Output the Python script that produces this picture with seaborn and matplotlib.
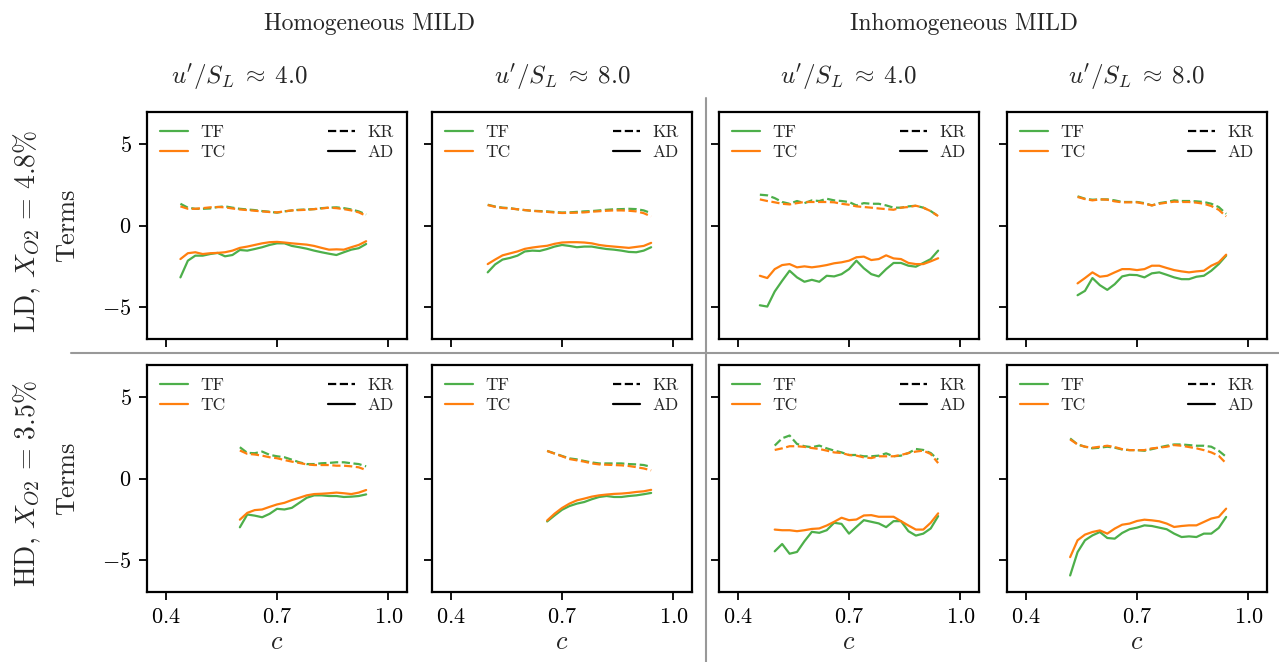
import matplotlib
matplotlib.use("Agg")
import matplotlib.pyplot as plt
from matplotlib.lines import Line2D
import seaborn as sns

# progress variable c and the four terms (TF/TC, KR/AD) for each panel
# LD, homogeneous, u'/S_L ~ 4
c_ld_h4 = [0.44, 0.46, 0.48, 0.50, 0.52, 0.54, 0.56, 0.58, 0.60, 0.62, 0.64, 0.66, 0.68,
           0.70, 0.72, 0.74, 0.76, 0.78, 0.80, 0.82, 0.84, 0.86, 0.88, 0.90, 0.92, 0.94]
tf_kr_ld_h4 = [1.34, 1.1, 1.03, 1.03, 1.05, 1.14, 1.18, 1.1, 1.03, 0.99, 0.95, 0.89, 0.85,
               0.79, 0.87, 0.93, 0.97, 0.99, 1.01, 1.07, 1.1, 1.12, 1.07, 0.99, 0.87, 0.68]
tc_kr_ld_h4 = [1.18, 1.03, 1.03, 1.07, 1.12, 1.14, 1.12, 1.05, 0.99, 0.95, 0.91, 0.87, 0.83,
               0.81, 0.87, 0.93, 0.95, 0.97, 1.01, 1.05, 1.1, 1.07, 1.01, 0.93, 0.81, 0.6]
tf_ad_ld_h4 = [-3.2, -2.17, -1.86, -1.86, -1.76, -1.69, -1.9, -1.82, -1.51, -1.55, -1.45, -1.34, -1.2,
               -1.1, -1.1, -1.26, -1.34, -1.43, -1.55, -1.65, -1.74, -1.82, -1.65, -1.49, -1.4, -1.14]
tc_ad_ld_h4 = [-2.07, -1.71, -1.65, -1.76, -1.71, -1.69, -1.65, -1.55, -1.38, -1.3, -1.2, -1.1, -1.03,
               -1.01, -1.05, -1.1, -1.14, -1.18, -1.26, -1.38, -1.49, -1.47, -1.49, -1.34, -1.2, -0.97]

# LD, homogeneous, u'/S_L ~ 8
c_ld_h8 = [0.50, 0.52, 0.54, 0.56, 0.58, 0.60, 0.62, 0.64, 0.66, 0.68, 0.70, 0.72,
           0.74, 0.76, 0.78, 0.80, 0.82, 0.84, 0.86, 0.88, 0.90, 0.92, 0.94]
tf_kr_ld_h8 = [1.28, 1.17, 1.1, 1.07, 1.0, 0.95, 0.91, 0.89, 0.87, 0.83, 0.8, 0.81,
               0.84, 0.87, 0.89, 0.93, 0.97, 1.0, 1.01, 1.03, 1.01, 0.93, 0.76]
tc_kr_ld_h8 = [1.26, 1.15, 1.08, 1.05, 1.0, 0.95, 0.9, 0.87, 0.84, 0.8, 0.77, 0.78,
               0.79, 0.81, 0.85, 0.88, 0.91, 0.93, 0.93, 0.91, 0.87, 0.76, 0.56]
tf_ad_ld_h8 = [-2.89, -2.4, -2.1, -2.0, -1.86, -1.6, -1.55, -1.57, -1.45, -1.3, -1.2, -1.26,
               -1.34, -1.3, -1.3, -1.38, -1.45, -1.49, -1.55, -1.63, -1.65, -1.55, -1.34]
tc_ad_ld_h8 = [-2.38, -2.1, -1.84, -1.72, -1.6, -1.44, -1.36, -1.3, -1.25, -1.13, -1.05, -1.03,
               -1.03, -1.05, -1.1, -1.2, -1.26, -1.3, -1.34, -1.38, -1.32, -1.26, -1.07]

# LD, inhomogeneous, u'/S_L ~ 4
c_ld_i4 = [0.46, 0.48, 0.50, 0.52, 0.54, 0.56, 0.58, 0.60, 0.62, 0.64, 0.66, 0.68, 0.70,
           0.72, 0.74, 0.76, 0.78, 0.80, 0.82, 0.84, 0.86, 0.88, 0.90, 0.92, 0.94]
tf_kr_ld_i4 = [1.9, 1.86, 1.69, 1.45, 1.34, 1.51, 1.38, 1.55, 1.51, 1.65, 1.55, 1.51, 1.45,
               1.24, 1.38, 1.34, 1.34, 1.24, 1.1, 1.1, 1.18, 1.22, 1.1, 0.89, 0.58]
tc_kr_ld_i4 = [1.61, 1.51, 1.43, 1.34, 1.3, 1.38, 1.45, 1.45, 1.45, 1.45, 1.43, 1.34, 1.28,
               1.18, 1.14, 1.1, 1.05, 1.01, 0.97, 1.1, 1.14, 1.22, 1.1, 0.89, 0.58]
tf_ad_ld_i4 = [-4.92, -5.0, -4.07, -3.41, -2.79, -3.2, -3.47, -3.35, -3.47, -3.1, -3.14, -3.0, -2.69,
               -2.17, -2.64, -3.0, -3.14, -2.69, -2.31, -2.31, -2.48, -2.54, -2.31, -2.07, -1.55]
tc_ad_ld_i4 = [-3.1, -3.24, -2.69, -2.44, -2.38, -2.58, -2.52, -2.58, -2.52, -2.44, -2.33, -2.27, -2.17,
               -1.96, -1.92, -2.13, -2.07, -1.84, -2.03, -2.07, -2.31, -2.38, -2.38, -2.21, -2.02]

# LD, inhomogeneous, u'/S_L ~ 8
c_ld_i8 = [0.54, 0.56, 0.58, 0.60, 0.62, 0.64, 0.66, 0.68, 0.70, 0.72, 0.74,
           0.76, 0.78, 0.80, 0.82, 0.84, 0.86, 0.88, 0.90, 0.92, 0.94]
tf_kr_ld_i8 = [1.8, 1.65, 1.59, 1.61, 1.61, 1.55, 1.45, 1.45, 1.45, 1.38, 1.24,
               1.38, 1.45, 1.55, 1.51, 1.51, 1.49, 1.45, 1.34, 1.14, 0.72]
tc_kr_ld_i8 = [1.76, 1.63, 1.55, 1.61, 1.59, 1.49, 1.43, 1.43, 1.43, 1.34, 1.24,
               1.34, 1.41, 1.47, 1.45, 1.45, 1.41, 1.34, 1.2, 0.97, 0.56]
tf_ad_ld_i8 = [-4.3, -4.03, -3.24, -3.68, -3.97, -3.62, -3.14, -3.04, -3.06, -3.2, -2.95,
               -2.89, -3.04, -3.2, -3.31, -3.31, -3.16, -3.1, -2.79, -2.38, -1.86]
tc_ad_ld_i8 = [-3.57, -3.24, -2.89, -3.16, -3.1, -2.89, -2.69, -2.69, -2.75, -2.69, -2.48,
               -2.48, -2.62, -2.75, -2.83, -2.89, -2.83, -2.79, -2.48, -2.27, -1.8]

# HD, homogeneous, u'/S_L ~ 4
c_hd_h4 = [0.60, 0.62, 0.64, 0.66, 0.68, 0.70, 0.72, 0.74, 0.76,
           0.78, 0.80, 0.82, 0.84, 0.86, 0.88, 0.90, 0.92, 0.94]
tf_kr_hd_h4 = [1.93, 1.58, 1.56, 1.66, 1.46, 1.37, 1.31, 1.16, 1.0,
               0.89, 0.89, 0.94, 0.96, 1.0, 1.0, 0.94, 0.89, 0.75]
tc_kr_hd_h4 = [1.73, 1.52, 1.48, 1.41, 1.31, 1.25, 1.14, 1.04, 0.96,
               0.87, 0.83, 0.83, 0.83, 0.79, 0.79, 0.75, 0.69, 0.52]
tf_ad_hd_h4 = [-3.01, -2.22, -2.29, -2.39, -2.18, -1.87, -1.91, -1.81, -1.5,
               -1.19, -1.04, -1.04, -1.08, -1.08, -1.14, -1.12, -1.08, -0.98]
tc_ad_hd_h4 = [-2.54, -2.12, -1.95, -1.91, -1.75, -1.6, -1.5, -1.33, -1.19,
               -1.04, -0.96, -0.94, -0.91, -0.87, -0.91, -0.96, -0.87, -0.71]

# HD, homogeneous, u'/S_L ~ 8
c_hd_h8 = [0.66, 0.68, 0.70, 0.72, 0.74, 0.76, 0.78, 0.80,
           0.82, 0.84, 0.86, 0.88, 0.90, 0.92, 0.94]
tf_kr_hd_h8 = [1.7, 1.55, 1.39, 1.24, 1.18, 1.08, 0.99, 0.93,
               0.93, 0.93, 0.93, 0.89, 0.87, 0.83, 0.72]
tc_kr_hd_h8 = [1.7, 1.53, 1.37, 1.2, 1.12, 1.04, 0.93, 0.87,
               0.85, 0.83, 0.81, 0.77, 0.7, 0.62, 0.5]
tf_ad_hd_h8 = [-2.65, -2.28, -1.93, -1.7, -1.55, -1.45, -1.28, -1.14,
               -1.08, -1.14, -1.14, -1.08, -1.04, -0.97, -0.89]
tc_ad_hd_h8 = [-2.59, -2.17, -1.82, -1.55, -1.35, -1.24, -1.12, -1.04,
               -0.99, -0.95, -0.93, -0.89, -0.83, -0.79, -0.7]

# HD, inhomogeneous, u'/S_L ~ 4
c_hd_i4 = [0.50, 0.52, 0.54, 0.56, 0.58, 0.60, 0.62, 0.64, 0.66, 0.68, 0.70, 0.72,
           0.74, 0.76, 0.78, 0.80, 0.82, 0.84, 0.86, 0.88, 0.90, 0.92, 0.94]
tf_kr_hd_i4 = [2.03, 2.48, 2.65, 2.13, 1.99, 1.93, 2.03, 1.86, 1.72, 1.61, 1.45, 1.45,
               1.37, 1.37, 1.41, 1.55, 1.37, 1.41, 1.57, 1.82, 1.76, 1.57, 1.16]
tc_kr_hd_i4 = [1.76, 1.86, 1.99, 1.99, 1.95, 1.88, 1.82, 1.72, 1.61, 1.57, 1.45, 1.41,
               1.3, 1.26, 1.37, 1.37, 1.37, 1.45, 1.57, 1.66, 1.72, 1.51, 0.95]
tf_ad_hd_i4 = [-4.49, -4.04, -4.64, -4.53, -3.87, -3.29, -3.35, -3.19, -2.73, -2.8, -3.4, -2.98,
               -2.57, -2.67, -2.77, -3.0, -2.63, -2.63, -3.25, -3.52, -3.4, -3.08, -2.32]
tc_ad_hd_i4 = [-3.15, -3.19, -3.19, -3.25, -3.19, -3.11, -3.08, -2.9, -2.67, -2.42, -2.57, -2.53,
               -2.28, -2.26, -2.36, -2.36, -2.36, -2.63, -2.9, -3.15, -3.15, -2.73, -2.15]

# HD, inhomogeneous, u'/S_L ~ 8
c_hd_i8 = [0.52, 0.54, 0.56, 0.58, 0.60, 0.62, 0.64, 0.66, 0.68, 0.70, 0.72,
           0.74, 0.76, 0.78, 0.80, 0.82, 0.84, 0.86, 0.88, 0.90, 0.92, 0.94]
tf_kr_hd_i8 = [2.47, 2.1, 1.96, 1.86, 1.9, 1.96, 1.9, 1.79, 1.75, 1.75, 1.71,
               1.81, 1.92, 2.02, 2.1, 2.1, 2.06, 2.02, 2.02, 1.96, 1.71, 1.34]
tc_kr_hd_i8 = [2.41, 2.1, 1.96, 1.9, 1.96, 2.02, 1.94, 1.81, 1.75, 1.75, 1.75,
               1.86, 1.9, 1.96, 2.06, 2.02, 1.94, 1.86, 1.75, 1.61, 1.4, 0.93]
tf_ad_hd_i8 = [-5.98, -4.54, -3.81, -3.51, -3.3, -3.67, -3.71, -3.36, -3.13, -3.03, -2.89,
               -2.93, -3.03, -3.13, -3.4, -3.61, -3.57, -3.61, -3.4, -3.4, -3.05, -2.37]
tc_ad_hd_i8 = [-4.85, -3.81, -3.46, -3.3, -3.2, -3.4, -3.09, -2.85, -2.78, -2.62, -2.54,
               -2.58, -2.64, -2.78, -2.99, -2.93, -2.89, -2.89, -2.68, -2.47, -2.37, -1.86]

col_titles = [r"$u'/S_L \;\approx\; 4.0$", r"$u'/S_L \;\approx\; 8.0$",
              r"$u'/S_L \;\approx\; 4.0$", r"$u'/S_L \;\approx\; 8.0$"]
row_titles = [r"LD, $X_{O2} \,=\, 4.8\%$", r"HD, $X_{O2} \,=\, 3.5\%$"]
group_titles = ["Homogeneous MILD", "Inhomogeneous MILD"]
x_ticks = [0.4, 0.7, 1.0]
y_ticks = [-5, 0, 5]

GREEN = "#4daf4a"
ORANGE = "#ff7f0e"

sns.set_style("ticks")
plt.rcParams["font.family"] = ["cmr10"]
plt.rcParams["mathtext.fontset"] = "cm"
plt.rcParams["axes.formatter.use_mathtext"] = True
plt.rcParams["axes.unicode_minus"] = True

W, H = 1279, 662
fig = plt.figure(figsize=(W / 100, H / 100), dpi=100)

panels = [
    (0, 0, c_ld_h4, tf_kr_ld_h4, tc_kr_ld_h4, tf_ad_ld_h4, tc_ad_ld_h4),
    (0, 1, c_ld_h8, tf_kr_ld_h8, tc_kr_ld_h8, tf_ad_ld_h8, tc_ad_ld_h8),
    (0, 2, c_ld_i4, tf_kr_ld_i4, tc_kr_ld_i4, tf_ad_ld_i4, tc_ad_ld_i4),
    (0, 3, c_ld_i8, tf_kr_ld_i8, tc_kr_ld_i8, tf_ad_ld_i8, tc_ad_ld_i8),
    (1, 0, c_hd_h4, tf_kr_hd_h4, tc_kr_hd_h4, tf_ad_hd_h4, tc_ad_hd_h4),
    (1, 1, c_hd_h8, tf_kr_hd_h8, tc_kr_hd_h8, tf_ad_hd_h8, tc_ad_hd_h8),
    (1, 2, c_hd_i4, tf_kr_hd_i4, tc_kr_hd_i4, tf_ad_hd_i4, tc_ad_hd_i4),
    (1, 3, c_hd_i8, tf_kr_hd_i8, tc_kr_hd_i8, tf_ad_hd_i8, tc_ad_hd_i8),
]

# axes boxes in pixels
lefts = [147, 432, 719, 1007]
ax_w = 260
tops = [112, 365]
ax_h = 227

for row, col, c, tf_kr, tc_kr, tf_ad, tc_ad in panels:
    ax = fig.add_axes([lefts[col] / W, (H - tops[row] - ax_h) / H, ax_w / W, ax_h / H])
    sns.lineplot(x=c, y=tf_kr, ax=ax, color=GREEN, linestyle="--", lw=1.6)
    sns.lineplot(x=c, y=tc_kr, ax=ax, color=ORANGE, linestyle="--", lw=1.6)
    sns.lineplot(x=c, y=tf_ad, ax=ax, color=GREEN, lw=1.6)
    sns.lineplot(x=c, y=tc_ad, ax=ax, color=ORANGE, lw=1.6)

    ax.set_xlim(0.35, 1.05)
    ax.set_ylim(-7, 7)
    ax.set_xticks(x_ticks)
    ax.set_yticks(y_ticks)
    ax.tick_params(length=6, width=1.3, labelsize=16, colors="black", pad=5)
    for s in ax.spines.values():
        s.set_linewidth(1.6)
        s.set_color("black")
        s.set_visible(True)

    if row == 1:
        ax.set_xlabel(r"$c$", fontsize=19)
        ax.xaxis.set_label_coords(0.5, -(630 - 592) / ax_h)
    else:
        ax.set_xticklabels([])
    if col == 0:
        ax.set_ylabel("Terms", fontsize=19)
        ax.yaxis.set_label_coords(-(147 - 79) / ax_w, 0.5)
    else:
        ax.set_yticklabels([])
        ax.set_ylabel("")

    h1 = [Line2D([], [], color=GREEN, lw=1.6), Line2D([], [], color=ORANGE, lw=1.6)]
    leg1 = ax.legend(h1, ["TF", "TC"], loc="upper left", frameon=False, fontsize=12.5,
                     handlelength=1.6, handletextpad=0.7, labelspacing=0.25,
                     borderaxespad=0.35)
    ax.add_artist(leg1)
    h2 = [Line2D([], [], color="black", lw=1.6, ls="--"), Line2D([], [], color="black", lw=1.6)]
    ax.legend(h2, ["KR", "AD"], loc="upper right", frameon=False, fontsize=12.5,
              handlelength=1.6, handletextpad=0.7, labelspacing=0.25,
              borderaxespad=0.35)

# titles
fig.text(370 / W, 1 - 24 / H, group_titles[0], ha="center", va="center", fontsize=17)
fig.text(964 / W, 1 - 24 / H, group_titles[1], ha="center", va="center", fontsize=17)
for x, t in zip([239, 562, 848, 1136], col_titles):
    fig.text(x / W, 1 - 77 / H, t, ha="center", va="center", fontsize=18)
for y, t in zip([231, 484], row_titles):
    fig.text(27 / W, 1 - y / H, t, ha="center", va="center", rotation=90, fontsize=20)

# separator lines
fig.add_artist(Line2D([706 / W, 706 / W], [1 - 98 / H, 0], transform=fig.transFigure,
                      color="#999999", lw=1.5))
fig.add_artist(Line2D([71 / W, 1], [1 - 352.5 / H, 1 - 352.5 / H], transform=fig.transFigure,
                      color="#999999", lw=1.5))

fig.savefig("out.png", dpi=100)
